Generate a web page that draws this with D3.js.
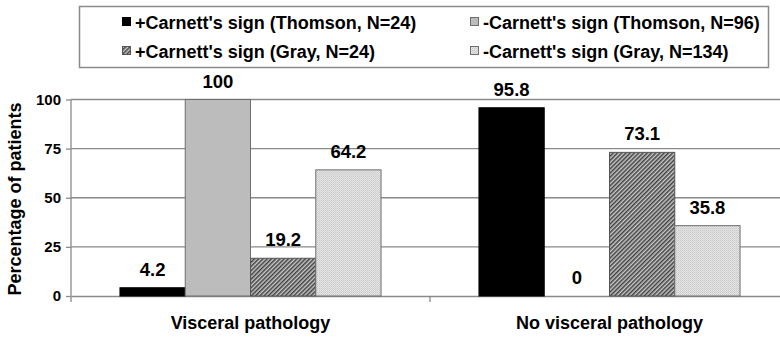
<!DOCTYPE html>
<html>
<head>
<meta charset="utf-8">
<script src="https://cdn.jsdelivr.net/npm/d3@7"></script>
<style>
  html, body { margin: 0; padding: 0; background: #fff; }
  svg { display: block; }
  text { font-family: "Liberation Sans", Arial, sans-serif; font-weight: bold; fill: #000; }
</style>
</head>
<body>
<div id="chart"></div>
<script>
// ---- data ----
const categories = ["Visceral pathology", "No visceral pathology"];
const seriesNames = [
  "+Carnett's sign (Thomson, N=24)",
  "-Carnett's sign (Thomson, N=96)",
  "+Carnett's sign (Gray, N=24)",
  "-Carnett's sign (Gray, N=134)"
];
const thomsonPos = [4.2, 95.8];
const thomsonNeg = [100, 0];
const grayPos = [19.2, 73.1];
const grayNeg = [64.2, 35.8];
const yTicks = [0, 25, 50, 75, 100];
const yTitle = "Percentage of patients";

const seriesValues = [thomsonPos, thomsonNeg, grayPos, grayNeg];

// ---- layout ----
const W = 780, H = 338;
const svg = d3.select("#chart").append("svg").attr("width", W).attr("height", H);
const defs = svg.append("defs");

// patterns
const hatch = defs.append("pattern").attr("id", "hatch")
  .attr("patternUnits", "userSpaceOnUse").attr("width", 3).attr("height", 3)
  .attr("patternTransform", "rotate(45)");
hatch.append("rect").attr("width", 3).attr("height", 3).attr("fill", "#c8c8c8");
hatch.append("rect").attr("width", 1.5).attr("height", 3).attr("fill", "#404040");

const dots = defs.append("pattern").attr("id", "dots")
  .attr("patternUnits", "userSpaceOnUse").attr("width", 2).attr("height", 2);
dots.append("rect").attr("width", 2).attr("height", 2).attr("fill", "#e4e4e4");
dots.append("rect").attr("width", 1).attr("height", 1).attr("fill", "#c8c8c8");
dots.append("rect").attr("x", 1).attr("y", 1).attr("width", 1).attr("height", 1).attr("fill", "#d4d4d4");

const fills = ["#000000", "#bcbcbc", "url(#hatch)", "url(#dots)"];
const strokes = ["#000000", "#6e6e6e", "#555555", "#6e6e6e"];

const x0 = d3.scaleBand().domain(categories).range([71, 789]).paddingInner(0).paddingOuter(0);
const x1 = d3.scaleBand().domain(d3.range(seriesNames.length)).range([0, x0.bandwidth()])
  .paddingInner(0).paddingOuter(0.75);
const y = d3.scaleLinear().domain([0, 100]).range([296, 99.5]);

// gridlines
svg.append("g").selectAll("line").data(yTicks.filter(t => t > 0)).join("line")
  .attr("x1", 71).attr("x2", 789)
  .attr("y1", d => y(d)).attr("y2", d => y(d))
  .attr("stroke", "#8a8a8a").attr("stroke-width", 1.3);

// y axis
const yAxis = svg.append("g").attr("transform", "translate(71,0)")
  .call(d3.axisLeft(y).tickValues(yTicks).tickSize(5).tickPadding(5));
yAxis.select(".domain").remove();
yAxis.selectAll(".tick line").attr("stroke", "#8a8a8a").attr("stroke-width", 1.3);
yAxis.selectAll(".tick text").style("font-size", "15px").attr("fill", "#000")
  .style("font-family", "'Liberation Sans', Arial, sans-serif").style("font-weight", "bold");
svg.append("line").attr("x1", 71).attr("x2", 71).attr("y1", y(100)).attr("y2", 302)
  .attr("stroke", "#8a8a8a").attr("stroke-width", 1.3);

// x axis
const xAxis = svg.append("g").attr("transform", "translate(0,296)")
  .call(d3.axisBottom(x0).tickSize(0).tickPadding(0).tickFormat(""));
xAxis.select(".domain").attr("stroke", "#8a8a8a").attr("stroke-width", 1.3);
// category separator ticks
svg.append("g").selectAll("line").data([x0.range()[0] + x0.step()]).join("line")
  .attr("x1", d => d).attr("x2", d => d).attr("y1", 296).attr("y2", 302)
  .attr("stroke", "#8a8a8a").attr("stroke-width", 1.3);

// category labels
svg.append("g").selectAll("text").data(categories).join("text")
  .attr("x", d => x0(d) + x0.bandwidth() / 2).attr("y", 329)
  .attr("text-anchor", "middle").style("font-size", "18px").text(d => d);

// bars
const groups = svg.append("g").selectAll("g").data(categories).join("g")
  .attr("transform", d => `translate(${x0(d)},0)`);
groups.each(function(cat, ci) {
  const g = d3.select(this);
  const rows = seriesValues.map((vals, si) => ({ si, v: vals[ci] }));
  g.selectAll("rect").data(rows.filter(r => r.v > 0)).join("rect")
    .attr("x", r => x1(r.si)).attr("width", x1.bandwidth())
    .attr("y", r => y(r.v)).attr("height", r => y(0) - y(r.v))
    .attr("fill", r => fills[r.si]).attr("stroke", r => strokes[r.si]).attr("stroke-width", 1);
  g.selectAll("text").data(rows).join("text")
    .attr("x", r => x1(r.si) + x1.bandwidth() / 2)
    .attr("y", r => y(r.v) - 12)
    .attr("text-anchor", "middle").style("font-size", "18.5px")
    .text(r => String(r.v));
});

// y title
svg.append("text").attr("transform", "translate(21,199) rotate(-90)")
  .attr("text-anchor", "middle").style("font-size", "18px").text(yTitle);

// legend
svg.append("rect").attr("x", 79.5).attr("y", 6.5).attr("width", 689).attr("height", 61)
  .attr("fill", "#fff").attr("stroke", "#8a8a8a").attr("stroke-width", 1.5);
const legPos = [[122, 29], [470, 29], [122, 58], [470, 58]];
const leg = svg.append("g").selectAll("g").data(seriesNames).join("g")
  .attr("transform", (d, i) => `translate(${legPos[i][0]},${legPos[i][1]})`);
leg.append("rect").attr("x", 0.5).attr("y", -11.5).attr("width", 8).attr("height", 8)
  .attr("fill", (d, i) => fills[i]).attr("stroke", (d, i) => strokes[i]).attr("stroke-width", 1);
leg.append("text").attr("x", 13).attr("y", 0)
  .style("font-size", "18px").text(d => d);
</script>
</body>
</html>
